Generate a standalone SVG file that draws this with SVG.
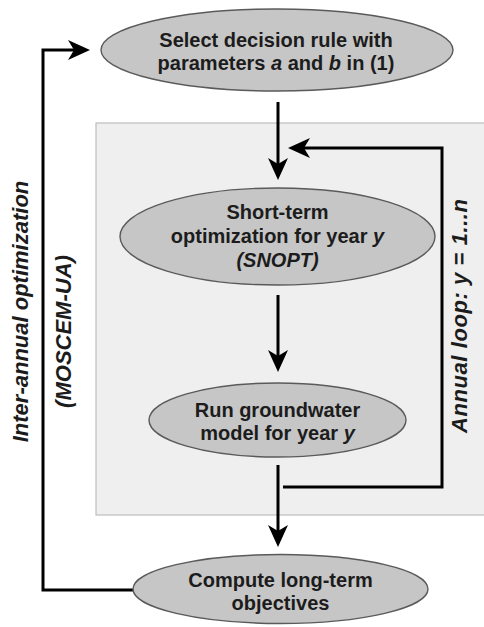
<svg xmlns="http://www.w3.org/2000/svg" width="484" height="627" viewBox="0 0 484 627">
<style>
.node ellipse{fill:#c6c6c6;stroke:#5a5a5a;stroke-width:1.4}
text{font-family:"Liberation Sans",Arial,sans-serif;font-weight:bold;font-size:20px;fill:#1c1c1c}
.c{text-anchor:middle}
.i{font-style:italic}
.side{font-size:22px}
.conn path{fill:none;stroke:#000;stroke-width:3}
</style>
<defs>
<marker id="ah" viewBox="0 0 22 20" refX="14" refY="10" markerWidth="22" markerHeight="20" markerUnits="userSpaceOnUse" orient="auto">
<path d="M0,0 L22,10 L0,20 L6,10 z" fill="#000"/>
</marker>
</defs>
<rect width="484" height="627" fill="#fff"/>
<rect id="annual-box" x="96" y="123" width="392" height="392" fill="#efefef" stroke="#bdbdbd" stroke-width="1.2"/>
<g class="conn">
<path d="M278,102 V172" marker-end="url(#ah)"/>
<path d="M278,295 V364" marker-end="url(#ah)"/>
<path d="M278,465 V539" marker-end="url(#ah)"/>
<path d="M283,487 H442 V148 H296" marker-end="url(#ah)"/>
<path d="M134,590 H43 V50 H82" marker-end="url(#ah)"/>
</g>
<g id="n1" class="node">
<ellipse cx="277" cy="50" rx="176" ry="41"/>
<text class="c" x="276" y="47">Select decision rule with</text>
<text class="c" x="276" y="70">parameters <tspan class="i">a</tspan> and <tspan class="i">b</tspan> in (1)</text>
</g>
<g id="n2" class="node">
<ellipse cx="277.5" cy="236.5" rx="157.5" ry="48.5"/>
<text class="c" x="277.5" y="219">Short-term</text>
<text class="c" x="277.5" y="243">optimization for year <tspan class="i">y</tspan></text>
<text class="c i" x="277.5" y="267">(SNOPT)</text>
</g>
<g id="n3" class="node">
<ellipse cx="277.5" cy="420" rx="128.5" ry="37"/>
<text class="c" x="277.5" y="416.5">Run groundwater</text>
<text class="c" x="277.5" y="440">model for year <tspan class="i">y</tspan></text>
</g>
<g id="n4" class="node">
<ellipse cx="280.5" cy="589" rx="147.5" ry="34.5"/>
<text class="c" x="280.5" y="587">Compute long-term</text>
<text class="c" x="280.5" y="610">objectives</text>
</g>
<g id="labels">
<text class="c i side" transform="translate(28,311.5) rotate(-90)">Inter-annual optimization</text>
<text class="c i side" transform="translate(71,331.5) rotate(-90)">(MOSCEM-UA)</text>
<text class="c i side" transform="translate(467,316) rotate(-90)" textLength="234" lengthAdjust="spacing">Annual loop: y = 1...n</text>
</g>
</svg>
